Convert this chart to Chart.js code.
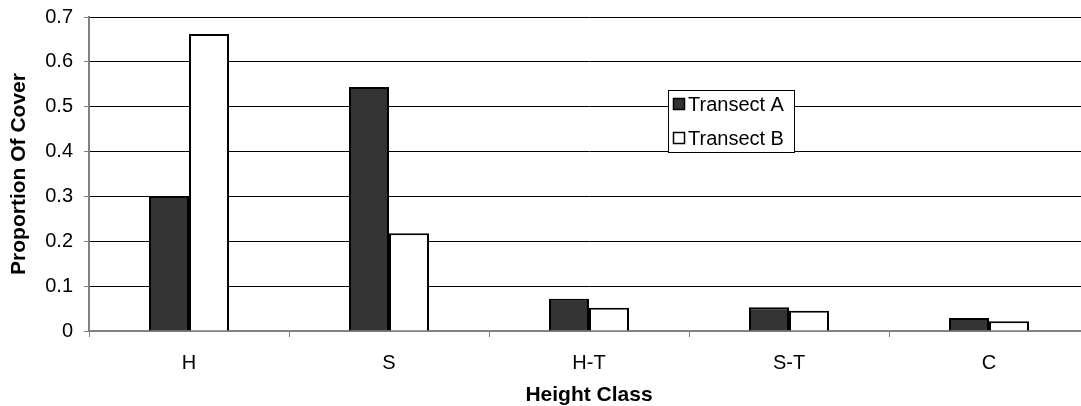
<!DOCTYPE html>
<html>
<head>
<meta charset="utf-8">
<script src="https://cdn.jsdelivr.net/npm/chart.js@4/dist/chart.umd.min.js"></script>
<style>
  html, body { margin: 0; padding: 0; background: #fff; overflow: hidden; }
  #wrap { position: relative; width: 1090px; height: 406px; }
</style>
</head>
<body>
<div id="wrap"><canvas id="c"></canvas></div>
<script>
const categories = ['H', 'S', 'H-T', 'S-T', 'C'];
const seriesNames = ['Transect A', 'Transect B'];
const transectA = [0.301, 0.544, 0.072, 0.053, 0.029];
const transectB = [0.662, 0.218, 0.052, 0.045, 0.022];
const yTicks = [0, 0.1, 0.2, 0.3, 0.4, 0.5, 0.6, 0.7];
const xTitle = 'Height Class';
const yTitle = 'Proportion Of Cover';

const FONT = '"Liberation Sans", Arial, sans-serif';

const legendPlugin = {
  id: 'boxLegend',
  afterDraw(chart) {
    const ctx = chart.ctx;
    const x0 = 668, y0 = 90, w = 126, h = 62;
    ctx.save();
    ctx.fillStyle = '#fff';
    ctx.fillRect(x0, y0, w, h);
    ctx.strokeStyle = '#000';
    ctx.lineWidth = 1;
    ctx.strokeRect(x0 + 0.5, y0 + 0.5, w, h);
    ctx.font = '20px ' + FONT;
    ctx.textBaseline = 'alphabetic';
    chart.data.datasets.forEach((ds, i) => {
      const base = y0 + 21 + i * 34;
      const cy = base - 7;
      ctx.fillStyle = ds.backgroundColor;
      ctx.fillRect(x0 + 5, cy - 6, 12, 12);
      ctx.strokeStyle = '#000';
      ctx.lineWidth = 1.5;
      ctx.strokeRect(x0 + 5.5, cy - 5.5, 11, 11);
      ctx.fillStyle = '#000';
      ctx.fillText(ds.label, x0 + 20, base);
    });
    ctx.restore();
  }
};

new Chart(document.getElementById('c'), {
  type: 'bar',
  data: {
    labels: categories,
    datasets: [
      { label: seriesNames[0], data: transectA, backgroundColor: '#333333', borderColor: '#000', borderWidth: 2 },
      { label: seriesNames[1], data: transectB, backgroundColor: '#ffffff', borderColor: '#000', borderWidth: 2 }
    ]
  },
  options: {
    responsive: true,
    maintainAspectRatio: false,
    animation: false,
    layout: { padding: { top: 17, right: 1, left: 0, bottom: 0 } },
    datasets: { bar: { categoryPercentage: 0.4, barPercentage: 1.0 } },
    plugins: { legend: { display: false }, tooltip: { enabled: false } },
    scales: {
      x: {
        offset: true,
        grid: { offset: true, drawOnChartArea: false, drawTicks: true, tickLength: 6, color: '#808080', lineWidth: 1 },
        border: { color: '#808080', width: 2 },
        ticks: { color: '#000', font: { family: FONT, size: 20 }, padding: 14, maxRotation: 0 },
        title: { display: true, text: xTitle, color: '#000', font: { family: FONT, size: 21, weight: 'bold', lineHeight: 1 }, padding: { top: 0, bottom: 0 } },
        afterFit(scale) { scale.height = 75; scale.paddingLeft = 0; scale.paddingRight = 0; }
      },
      y: {
        min: 0, max: 0.7,
        afterBuildTicks(scale) { scale.ticks = yTicks.map(v => ({ value: v })); },
        grid: { color: '#000', lineWidth: 1, drawTicks: true, tickLength: 5, tickColor: '#808080' },
        border: { color: '#808080', width: 2 },
        ticks: { color: '#000', font: { family: FONT, size: 20 }, padding: 11, callback: v => String(v) },
        title: { display: true, text: yTitle, color: '#000', font: { family: FONT, size: 21, weight: 'bold', lineHeight: 1 }, padding: { top: 9, bottom: 0 } },
        afterFit(scale) { scale.width = 89; scale.paddingTop = 0; scale.paddingBottom = 0; }
      }
    }
  },
  plugins: [legendPlugin]
});
</script>
</body>
</html>
